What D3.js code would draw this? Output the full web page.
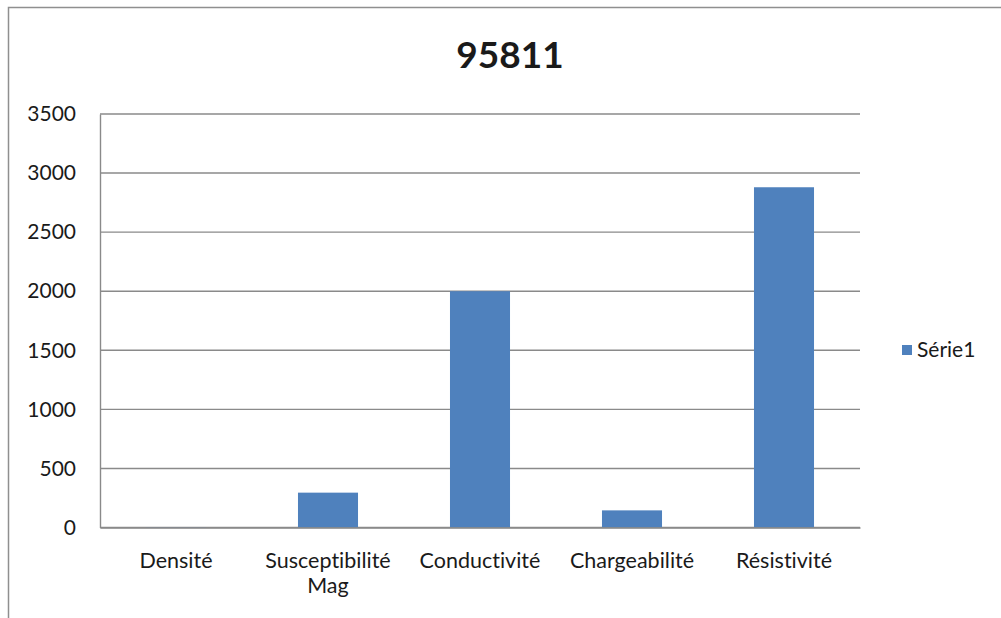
<!DOCTYPE html>
<html>
<head>
<meta charset="utf-8">
<script src="https://cdn.jsdelivr.net/npm/d3@7"></script>
<style>
  html, body { margin: 0; padding: 0; background: #fff; }
  svg { display: block; }
  text { font-family: Lato, "Open Sans", sans-serif; fill: #1a1a1a; font-variant-ligatures: none; }
</style>
</head>
<body>
<svg id="chart" width="1001" height="618"></svg>
<script>
// Chart content
const chartTitle = "95811";
const categories = ["Densité", "Susceptibilité Mag", "Conductivité", "Chargeabilité", "Résistivité"];
const seriesName = "Série1";
const seriesValues = [2.7, 295, 2000, 145, 2880];
const yTicks = [0, 500, 1000, 1500, 2000, 2500, 3000, 3500];

const W = 1001, H = 618;
const plot = { left: 100, right: 860, top: 114, bottom: 527.5 };
const barColor = "#4f81bd";
const gridColor = "#8a8a8a";

const svg = d3.select("#chart");

// outer chart frame (only top and left edges fall inside the page)
svg.append("rect")
  .attr("x", 8.5).attr("y", 7.5)
  .attr("width", W + 20).attr("height", H + 20)
  .attr("fill", "#fff")
  .attr("stroke", "#8f8f8f")
  .attr("stroke-width", 1.5);

const x = d3.scaleBand()
  .domain(categories)
  .range([plot.left, plot.right])
  .paddingInner(0.605)
  .paddingOuter(0.3025);

const y = d3.scaleLinear()
  .domain([0, 3500])
  .range([plot.bottom, plot.top]);

// horizontal gridlines
svg.append("g")
  .selectAll("line")
  .data(yTicks)
  .join("line")
  .attr("x1", plot.left).attr("x2", plot.right)
  .attr("y1", d => y(d)).attr("y2", d => y(d))
  .attr("stroke", gridColor)
  .attr("stroke-width", 1.4);

// bars
svg.append("g")
  .selectAll("rect")
  .data(seriesValues)
  .join("rect")
  .attr("x", (d, i) => x(categories[i]))
  .attr("width", x.bandwidth())
  .attr("y", d => y(d))
  .attr("height", d => y(0) - y(d))
  .attr("fill", barColor);

// value axis
const yAxis = svg.append("g")
  .attr("transform", `translate(${plot.left},0)`)
  .call(d3.axisLeft(y).tickValues(yTicks).tickSize(0).tickPadding(24).tickFormat(d3.format("d")));
yAxis.select(".domain").attr("stroke", gridColor).attr("stroke-width", 1.4);
yAxis.selectAll("text")
  .style("font-family", "Lato, 'Open Sans', sans-serif")
  .style("font-size", "21px")
  .attr("fill", "#1a1a1a");

// category axis with wrapped labels
const xAxis = svg.append("g")
  .attr("transform", `translate(0,${plot.bottom})`)
  .call(d3.axisBottom(x).tickSize(0).tickPadding(0).tickFormat(""));
xAxis.select(".domain").attr("stroke", gridColor).attr("stroke-width", 1.4);

svg.append("g")
  .selectAll("text")
  .data(categories)
  .join("text")
  .attr("text-anchor", "middle")
  .style("font-size", "21.5px")
  .each(function (d) {
    const words = d.split(" ");
    const lines = words.length > 1 && d.length > 14 ? [words.slice(0, -1).join(" "), words[words.length - 1]] : [d];
    const t = d3.select(this);
    lines.forEach((ln, k) => {
      t.append("tspan")
        .attr("x", x(d) + x.bandwidth() / 2)
        .attr("y", 568 + k * 25)
        .text(ln);
    });
  });

// title
svg.append("text")
  .attr("x", 510)
  .attr("y", 68)
  .attr("text-anchor", "middle")
  .style("font-size", "37px")
  .style("font-weight", "700")
  .attr("fill", "#000")
  .text(chartTitle);

// legend
const legend = svg.append("g").attr("transform", "translate(902,345)");
legend.append("rect").attr("width", 10).attr("height", 10).attr("fill", barColor);
legend.append("text")
  .attr("x", 15).attr("y", 12)
  .style("font-size", "21px")
  .text(seriesName);
</script>
</body>
</html>
